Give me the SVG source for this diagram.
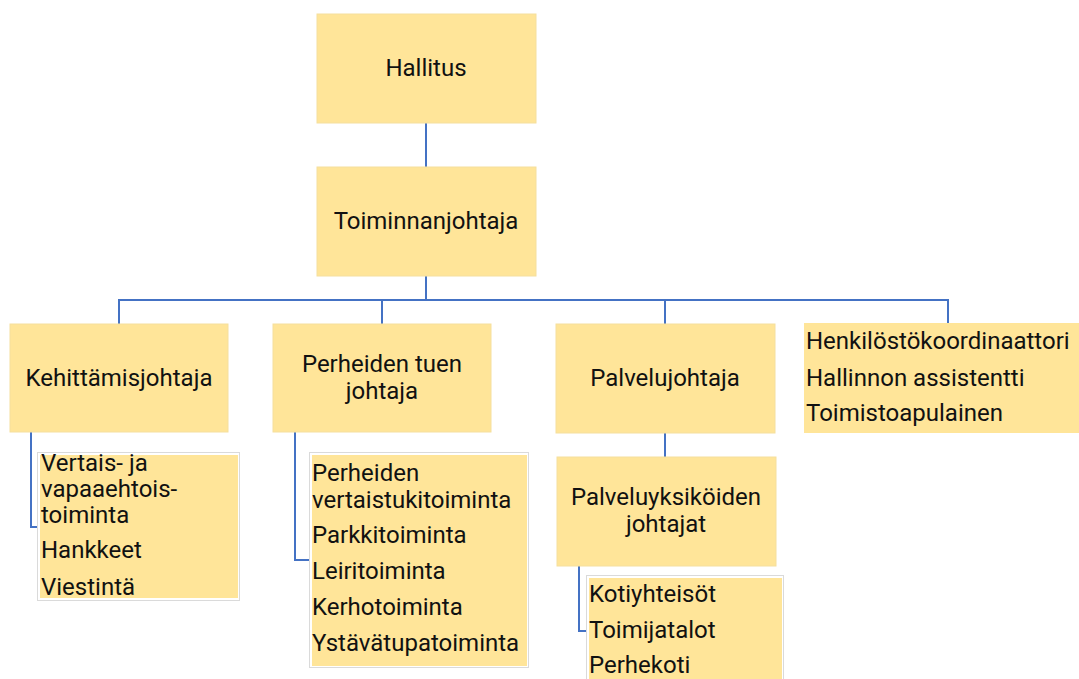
<svg xmlns="http://www.w3.org/2000/svg" width="1079" height="679" viewBox="0 0 1079 679">
<style>
.box{fill:#FFE599;stroke:#F5DF9E;stroke-width:1}
.lst{fill:#FFE599}
.frame{fill:#ffffff;stroke:#DADADA;stroke-width:1}
.c{fill:none;stroke:#4472C4;stroke-width:2}
text{font-family:Roboto,"Liberation Sans",sans-serif;font-size:24px;fill:#111111}
.m{text-anchor:middle}
</style>
<rect width="1079" height="679" fill="#ffffff"/>
<g id="connectors">
<path class="c" d="M426,123V167"/>
<path class="c" d="M426,276V300H119V324"/>
<path class="c" d="M426,300H948V324"/>
<path class="c" d="M382,300V324"/>
<path class="c" d="M665,300V324"/>
<path class="c" d="M665,433V457"/>
<path class="c" d="M31,432V527H40"/>
<path class="c" d="M295,432V560H311"/>
<path class="c" d="M579,566V631H589"/>
</g>
<g id="hallitus">
<rect class="box" x="317" y="14" width="219" height="109"/>
<text class="m" x="426" y="76">Hallitus</text>
</g>
<g id="toiminnanjohtaja">
<rect class="box" x="317" y="167" width="219" height="109"/>
<text class="m" x="426" y="229">Toiminnanjohtaja</text>
</g>
<g id="kehittamisjohtaja">
<rect class="box" x="10" y="324" width="218" height="108"/>
<text class="m" x="119" y="386">Kehittämisjohtaja</text>
</g>
<g id="perheiden-tuen-johtaja">
<rect class="box" x="273" y="324" width="218" height="108"/>
<text class="m" x="382" y="372">Perheiden tuen</text>
<text class="m" x="382" y="399">johtaja</text>
</g>
<g id="palvelujohtaja">
<rect class="box" x="556" y="324" width="219" height="109"/>
<text class="m" x="665" y="386">Palvelujohtaja</text>
</g>
<g id="henkilosto">
<rect class="lst" x="804" y="323" width="275" height="110"/>
<text x="806" y="349">Henkilöstökoordinaattori</text>
<text x="806" y="386">Hallinnon assistentti</text>
<text x="806" y="421">Toimistoapulainen</text>
</g>
<g id="palveluyksikoiden-johtajat">
<rect class="box" x="557" y="457" width="219" height="109"/>
<text class="m" x="666" y="505">Palveluyksiköiden</text>
<text class="m" x="666" y="532">johtajat</text>
</g>
<g id="kehittamis-lista">
<rect class="frame" x="37.5" y="452.5" width="202" height="148"/>
<rect class="lst" x="40" y="455" width="198" height="143"/>
<text x="41" y="471">Vertais- ja</text>
<text x="41" y="497">vapaaehtois-</text>
<text x="41" y="523">toiminta</text>
<text x="41" y="558">Hankkeet</text>
<text x="41" y="595">Viestintä</text>
</g>
<g id="perheiden-lista">
<rect class="frame" x="309.5" y="452.5" width="219" height="215"/>
<rect class="lst" x="312" y="455" width="215" height="211"/>
<text x="312" y="481">Perheiden</text>
<text x="312" y="508">vertaistukitoiminta</text>
<text x="312" y="543">Parkkitoiminta</text>
<text x="312" y="579">Leiritoiminta</text>
<text x="312" y="615">Kerhotoiminta</text>
<text x="312" y="651">Ystävätupatoiminta</text>
</g>
<g id="palvelu-lista">
<rect class="frame" x="586.5" y="575.5" width="197" height="110"/>
<rect class="lst" x="589" y="578" width="193" height="101"/>
<text x="589" y="602">Kotiyhteisöt</text>
<text x="589" y="638">Toimijatalot</text>
<text x="589" y="673">Perhekoti</text>
</g>
</svg>
